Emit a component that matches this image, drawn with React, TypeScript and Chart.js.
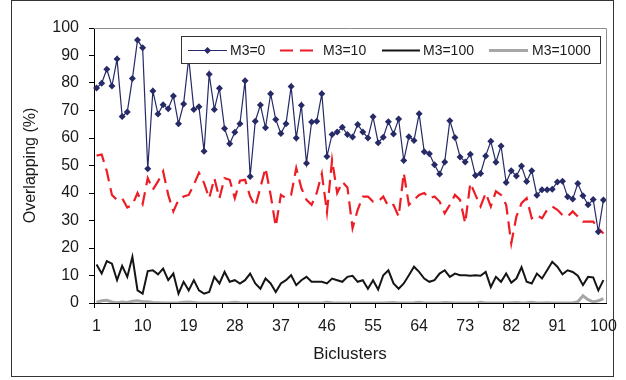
import React, { useEffect, useRef } from "react";
import { Chart, registerables } from "chart.js";

Chart.register(...registerables);

const categories: string[] = Array.from({ length: 100 }, (_, i) => String(i + 1));
const xTickLabels = ["1", "10", "19", "28", "37", "46", "55", "64", "73", "82", "91", "100"];
const yTicks = [0, 10, 20, 30, 40, 50, 60, 70, 80, 90, 100];

const m3_0 = [
  78.2, 79.9, 85, 78.9, 88.7, 67.8, 69.5, 81.6, 95.6, 92.8,
  48.8, 77.1, 68.7, 72.1, 70.6, 75.3, 65.2, 72.4, 89, 70.4,
  71.4, 55.2, 83.2, 70.4, 78.1, 63.5, 57.9, 62.1, 65.2, 80.8,
  46, 66.1, 72, 63.7, 76.1, 66.7, 61.6, 65.2, 78.7, 60,
  71.9, 50.8, 65.8, 66.1, 76.1, 53.3, 61.3, 62.2, 63.9, 61.3,
  60.4, 64.9, 62.2, 60, 67.7, 58.3, 60.3, 65.9, 61.5, 66.9,
  51.8, 60.5, 59.1, 68.8, 55, 54.3, 50.3, 46.9, 51.3, 66.3,
  60.2, 53.1, 51.3, 54.1, 46.4, 47.1, 53.5, 58.8, 51.2, 57.1,
  43.8, 48.1, 46.2, 49.8, 44.2, 48.1, 39.2, 41.2, 41.2, 41.4,
  44, 44.3, 38.6, 37.8, 43.5, 39, 35.7, 37.6, 25.9, 37.5,
];

const m3_10 = [
  53.6, 54, 47.9, 39.3, 37.5, 38.1, 34.7, 35.7, 40, 36,
  45.4, 41.2, 44.2, 47.9, 39.3, 33.3, 37.5, 38.7, 39.3, 43,
  47.3, 43.6, 38.1, 45.4, 38.1, 45.4, 44.8, 38.1, 44.5, 44.8,
  38.7, 35.1, 42, 49.1, 39.3, 27.8, 39.3, 38.1, 39.3, 49.1,
  41.8, 37.5, 35.7, 40, 47, 33, 52, 40, 44, 42,
  27.2, 33.9, 38.7, 38.7, 36.9, 36.9, 38.7, 35.1, 35.7, 31.4,
  47.3, 35.7, 37.5, 39.3, 40, 38.1, 38.7, 36.9, 32.6, 35.7,
  39.3, 37.5, 29, 43.6, 39.3, 35.1, 40, 35.1, 40.6, 39.3,
  35.7, 21.7, 31.4, 36.3, 38.1, 30.8, 32, 30.8, 33.9, 35.1,
  33.9, 32, 31.4, 33.3, 31.4, 29.6, 29.6, 29.6, 27.2, 25.3,
];

const m3_100 = [
  14, 10.7, 15.2, 14.3, 8.3, 13.5, 9.5, 16.8, 4.6, 3.4,
  11.6, 11.9, 10.4, 12.5, 8.3, 10.7, 3.4, 7.7, 4.6, 8.3,
  4.6, 3.4, 4, 9.5, 7.1, 11.3, 7.7, 8.3, 7.1, 8.3,
  10.7, 7.1, 5.2, 8.9, 7.1, 4, 7.1, 8.3, 10.1, 6.5,
  8.3, 9.5, 7.7, 7.7, 7.7, 7.1, 8.9, 8.3, 7.7, 9.5,
  9.9, 7.7, 8.3, 5.2, 8.3, 4.9, 10.1, 11.9, 7.1, 5.2,
  7.1, 10.1, 13.2, 11.3, 8.9, 7.7, 8.3, 10.7, 11.9, 9.5,
  10.7, 10.1, 10.1, 9.9, 10.1, 9.9, 11.3, 5.8, 9.5, 7.7,
  10.7, 7.4, 8.9, 13, 7.7, 7.1, 10.7, 8.9, 11.9, 15,
  13.2, 10.4, 11.9, 11.3, 9.9, 6.5, 9.5, 9.3, 4.6, 8.3,
];

const m3_1000 = [
  0.3, 0.8, 1.0, 0.4, 0.1, 0.4, 0.2, 0.6, 0.8, 0.5,
  0.5, 0.2, 0.1, 0, 0, 0, 0.1, 0.3, 0.4, 0.2,
  0, 0, 0, 0, 0, 0, 0.1, 0.3, 0.1, 0,
  0, 0, 0, 0, 0, 0, 0, 0, 0, 0,
  0, 0, 0, 0, 0, 0.3, 0.1, 0, 0, 0,
  0, 0, 0, 0, 0, 0, 0, 0.1, 0.2, 0,
  0, 0, 0.1, 0.3, 0, 0, 0, 0, 0.2, 0.1,
  0, 0, 0, 0, 0, 0.3, 0, 0, 0, 0,
  0, 0.1, 0.2, 0, 0.1, 0.3, 0, 0, 0.1, 0,
  0, 0, 0, 0, 0.5, 2.6, 1.2, 0.4, 0.8, 1.6,
];

const seriesNames = ["M3=0", "M3=10", "M3=100", "M3=1000"];
const NAVY = "#262a66";
const RED = "#ee1d25";
const BLACK = "#151515";
const GRAY = "#a6a6a6";
const FONT = "'Liberation Sans', Arial, Helvetica, sans-serif";
const TEXT = "#1a1a1a";

const framePlugin = {
  id: "frame",
  afterDraw(chart: any) {
    const { ctx, chartArea } = chart;
    ctx.save();
    // plot area top/right border
    ctx.strokeStyle = "#8c8c8c";
    ctx.lineWidth = 1;
    ctx.beginPath();
    ctx.moveTo(chartArea.left, chartArea.top + 0.5);
    ctx.lineTo(chartArea.right + 0.5, chartArea.top + 0.5);
    ctx.lineTo(chartArea.right + 0.5, chartArea.bottom);
    ctx.stroke();
    // outer frame
    ctx.strokeStyle = "#333";
    ctx.strokeRect(11.5, 0.5, 602, 376);

    // legend
    const bx = 181.5, by = 36.5, bw = 419, bh = 27;
    ctx.fillStyle = "#fff";
    ctx.fillRect(bx, by, bw, bh);
    ctx.strokeStyle = "#333";
    ctx.lineWidth = 1;
    ctx.strokeRect(bx, by, bw, bh);
    const cy = 50.5;
    ctx.font = `14px ${FONT}`;
    ctx.fillStyle = TEXT;
    ctx.textBaseline = "middle";
    ctx.textAlign = "left";
    const items = [
      { x0: 188, x1: 227, tx: 230, color: NAVY, w: 1.2, dash: [] as number[], marker: true },
      { x0: 280, x1: 314, tx: 323, color: RED, w: 2.2, dash: [13, 7], marker: false },
      { x0: 382, x1: 420, tx: 423, color: BLACK, w: 2, dash: [] as number[], marker: false },
      { x0: 489, x1: 528, tx: 532, color: GRAY, w: 3, dash: [] as number[], marker: false },
    ];
    items.forEach((it, i) => {
      ctx.strokeStyle = it.color;
      ctx.lineWidth = it.w;
      ctx.setLineDash(it.dash);
      ctx.beginPath();
      ctx.moveTo(it.x0, cy);
      ctx.lineTo(it.x1, cy);
      ctx.stroke();
      ctx.setLineDash([]);
      if (it.marker) {
        const mx = (it.x0 + it.x1) / 2;
        ctx.fillStyle = it.color;
        ctx.beginPath();
        ctx.moveTo(mx, cy - 3.5);
        ctx.lineTo(mx + 3.5, cy);
        ctx.lineTo(mx, cy + 3.5);
        ctx.lineTo(mx - 3.5, cy);
        ctx.closePath();
        ctx.fill();
      }
      ctx.fillStyle = TEXT;
      ctx.fillText(seriesNames[i], it.tx, cy + 0.5);
    });
    ctx.restore();
  },
};

export default function App() {
  const canvasRef = useRef<HTMLCanvasElement | null>(null);

  useEffect(() => {
    if (!canvasRef.current) return;
    const chart = new Chart(canvasRef.current, {
      type: "line",
      data: {
        labels: categories,
        datasets: [
          {
            label: seriesNames[0],
            data: m3_0,
            borderColor: NAVY,
            backgroundColor: NAVY,
            borderWidth: 1.2,
            pointStyle: "rectRot",
            pointRadius: 3.5,
            pointBorderWidth: 0,
            pointBackgroundColor: NAVY,
            tension: 0,
          },
          {
            label: seriesNames[1],
            data: m3_10,
            borderColor: RED,
            borderWidth: 2.2,
            borderDash: [13, 7],
            pointRadius: 0,
            tension: 0,
          },
          {
            label: seriesNames[2],
            data: m3_100,
            borderColor: BLACK,
            borderWidth: 2,
            pointRadius: 0,
            tension: 0,
          },
          {
            label: seriesNames[3],
            data: m3_1000,
            borderColor: GRAY,
            borderWidth: 3,
            pointRadius: 0,
            tension: 0,
          },
        ],
      },
      options: {
        animation: false,
        responsive: true,
        maintainAspectRatio: false,
        layout: { padding: { left: 14, top: 28, right: 20, bottom: 0 } },
        plugins: {
          legend: { display: false },
          tooltip: { enabled: false },
        },
        scales: {
          x: {
            type: "category",
            offset: true,
            afterFit: (s: any) => {
              s.height = 77;
            },
            grid: {
              offset: true,
              drawOnChartArea: false,
              tickLength: 5,
              tickColor: (ctx: any) => (ctx.index % 5 === 0 ? "#000" : "rgba(0,0,0,0)"),
            },
            border: { color: "#000", width: 1 },
            ticks: {
              autoSkip: false,
              maxRotation: 0,
              minRotation: 0,
              padding: 9,
              color: TEXT,
              font: { family: FONT, size: 16 },
              callback: (_v: any, i: number) =>
                xTickLabels.includes(categories[i]) ? categories[i] : "",
            },
            title: {
              display: true,
              text: "Biclusters",
              color: TEXT,
              font: { family: FONT, size: 17 },
              padding: { top: 0, bottom: 15 },
            },
          },
          y: {
            type: "linear",
            min: 0,
            max: 100,
            afterFit: (s: any) => {
              s.width = 80;
            },
            afterBuildTicks: (s: any) => {
              s.ticks = yTicks.map((v) => ({ value: v }));
            },
            grid: { drawOnChartArea: false, tickLength: 5, tickColor: "#000" },
            border: { color: "#000", width: 1 },
            ticks: {
              padding: 10,
              color: TEXT,
              font: { family: FONT, size: 16 },
            },
            title: {
              display: true,
              text: "Overlapping (%)",
              color: TEXT,
              font: { family: FONT, size: 16 },
              padding: { top: 7, bottom: 0 },
            },
          },
        },
      },
      plugins: [framePlugin],
    });
    return () => chart.destroy();
  }, []);

  return (
    <div style={{ position: "fixed", left: 0, top: 0, width: 626, height: 380, background: "#fff" }}>
      <canvas ref={canvasRef} />
    </div>
  );
}
